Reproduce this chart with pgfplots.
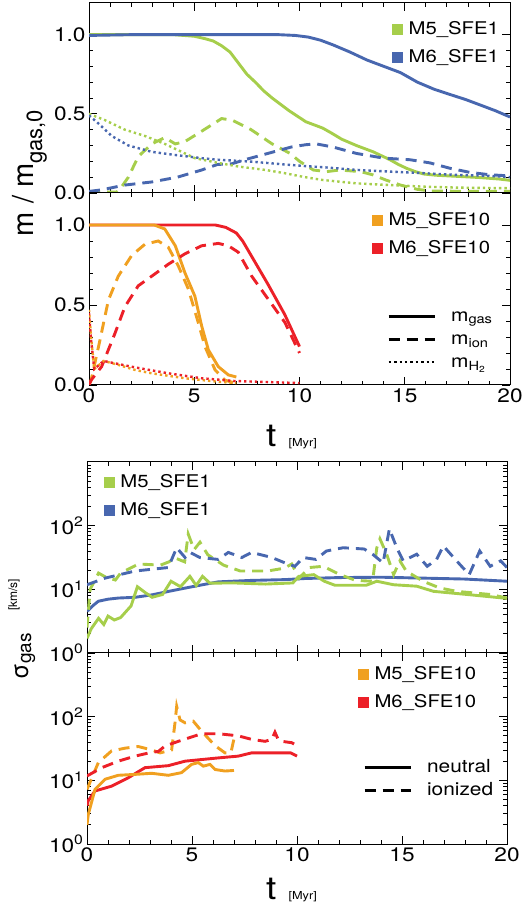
\documentclass[border=0pt]{standalone}
\usepackage{fontspec}
\setmainfont{TeX Gyre Heros}[FakeStretch=1.16]
\newfontfamily\rotfont{TeX Gyre Heros}
\usepackage{pgfplots}
\pgfplotsset{compat=1.18}
\definecolor{cgreen}{RGB}{166,206,75}
\definecolor{cblue}{RGB}{72,103,175}
\definecolor{corange}{RGB}{240,160,32}
\definecolor{cred}{RGB}{236,32,40}
\pgfplotsset{
  panel/.style={scale only axis, xmin=0, xmax=20, xtick={0,5,10,15,20},
    minor x tick num=4, tick align=inside, major tick length=8pt, minor tick length=4pt,
    axis line style={line width=1pt}, every tick/.style={black, line width=0.8pt},
    tick label style={font=\fontsize{19.5}{22}\selectfont}, no markers, anchor=south west},
  sol/.style={line width=2.9pt, solid},
  dsh/.style={line width=2.9pt, dash pattern=on 11pt off 7pt},
  dot/.style={line width=2.4pt, dash pattern=on 2.4pt off 3pt},
  sq/.style={legend image code/.code={\fill[#1] (0pt,-5pt) rectangle (10pt,5pt); \path (16pt,0pt);}},
  colleg/.style={legend cell align=left, legend style={draw=none, fill=none, inner sep=0pt,
    row sep=10pt, font=\fontsize{17.5}{21}\selectfont, at={#1}, anchor=north west,
    nodes={inner sep=0pt, text height=14pt, text depth=4pt}}},
  linleg/.style={legend cell align=left, legend style={draw=none, fill=none, inner sep=0pt,
    row sep=5pt, font=\fontsize{18}{21}\selectfont, at={#1}, anchor=north west,
    nodes={inner sep=0pt, text height=14pt, text depth=4pt}},
    legend image code/.code={\draw[##1] (0pt,0pt) -- (46pt,0pt); \path (61pt,0pt);}},
}
\begin{document}
\begin{tikzpicture}[x=1pt,y=1pt]
\path[use as bounding box] (0,0) rectangle (530,910);
% ---------------- Panel 1
\begin{axis}[panel, at={(89pt,717pt)}, width=421pt, height=190pt, ymin=0, ymax=1.2,
  ytick={0,0.5,1}, yticklabels={0.0,0.5,1.0}, minor y tick num=4, xticklabels={},
  colleg={(0.72,0.91)}]
\addplot[cgreen, sol, forget plot] coordinates {(0,1.0)(1,1.0)(2,1.0)(3,1.0)(4,1.0)(4.5,0.995)(5,0.99)(5.5,0.975)(5.9,0.96)(6.3,0.93)(6.7,0.89)(7.1,0.82)(7.5,0.75)(7.9,0.70)(8.3,0.645)(8.7,0.60)(9.1,0.56)(9.5,0.52)(9.9,0.485)(10.3,0.45)(10.7,0.43)(11.1,0.41)(11.5,0.38)(12.0,0.34)(12.7,0.30)(13.5,0.26)(14.3,0.21)(14.7,0.18)(15.1,0.155)(15.5,0.135)(15.9,0.12)(16.5,0.112)(17.5,0.105)(18.5,0.098)(19.5,0.088)(20,0.08)};
\addplot[cblue, sol, forget plot] coordinates {(0,0.995)(2,1.0)(5,1.0)(8,1.0)(9,1.0)(9.8,0.995)(10.4,0.985)(11,0.965)(11.6,0.935)(12.4,0.89)(13.2,0.84)(14,0.80)(14.8,0.76)(15.6,0.70)(16.4,0.655)(17.2,0.62)(17.9,0.59)(18.6,0.555)(19.3,0.52)(20,0.48)};
\addplot[cgreen, dsh, forget plot] coordinates {(0,0.005)(1.3,0.005)(1.45,0.02)(1.87,0.10)(2.34,0.23)(2.98,0.31)(3.6,0.35)(4.1,0.31)(4.56,0.325)(5.35,0.39)(6.3,0.47)(6.8,0.46)(7.7,0.40)(8.7,0.31)(9.55,0.25)(10.0,0.20)(10.66,0.145)(11.3,0.135)(11.9,0.145)(12.9,0.135)(13.5,0.114)(14.1,0.082)(14.8,0.05)(15.6,0.023)(16.2,0.013)(18,0.01)(20,0.01)};
\addplot[cblue, dsh, forget plot] coordinates {(0,0.01)(0.6,0.02)(1.7,0.05)(3.0,0.07)(4.2,0.10)(5.35,0.145)(6.1,0.18)(6.8,0.185)(7.4,0.21)(8.5,0.25)(9.6,0.29)(10.3,0.305)(10.8,0.31)(11.6,0.29)(12.7,0.25)(14.0,0.22)(15.25,0.21)(16.2,0.19)(17.15,0.156)(18.1,0.13)(19.05,0.115)(20,0.108)};
\addplot[cgreen, dot, forget plot] coordinates {(0,0.50)(0.76,0.46)(1.7,0.40)(2.66,0.36)(3.6,0.31)(4.24,0.27)(5.03,0.22)(6.14,0.19)(7.1,0.167)(8.36,0.146)(9.3,0.125)(10.26,0.10)(11.1,0.082)(12.7,0.061)(14.3,0.05)(15.9,0.04)(17.5,0.034)(20,0.03)};
\addplot[cblue, dot, forget plot] coordinates {(0,0.49)(0.44,0.44)(1.08,0.36)(1.87,0.30)(2.98,0.26)(4.09,0.24)(5.35,0.22)(6.14,0.21)(7.73,0.198)(9.3,0.18)(10.26,0.17)(11.1,0.163)(12.7,0.146)(14.3,0.135)(15.9,0.125)(17.5,0.114)(19.05,0.108)(20,0.10)};
\addlegendimage{sq=cgreen}\addlegendentry{M5\_SFE1}
\addlegendimage{sq=cblue}\addlegendentry{M6\_SFE1}
\end{axis}
% ---------------- Panel 2
\begin{axis}[panel, at={(89pt,525pt)}, width=421pt, height=192pt, ymin=0, ymax=1.2,
  ytick={0,0.5,1}, yticklabels={0.0,0.5,1.0}, minor y tick num=4, xticklabels={0,5,10,15,20},
  colleg={(0.672,0.906)}]
\addplot[cred, sol, forget plot] coordinates {(0,1.0)(3,1.0)(6,1.0)(6.5,0.985)(7.0,0.95)(7.3,0.90)(7.7,0.81)(8.5,0.63)(9.3,0.44)(10.0,0.24)};
\addplot[corange, sol, forget plot] coordinates {(0,1.0)(3.1,1.0)(3.6,0.975)(4.1,0.87)(4.56,0.70)(5.03,0.555)(5.35,0.37)(5.67,0.22)(6.14,0.115)(6.62,0.063)(7.0,0.05)};
\addplot[corange, dsh, forget plot] coordinates {(0,0.0)(0.1,0.03)(0.52,0.28)(0.92,0.53)(1.39,0.68)(2.03,0.81)(2.66,0.88)(3.29,0.90)(3.77,0.86)(4.24,0.745)(4.72,0.60)(5.19,0.39)(5.51,0.24)(5.99,0.094)(6.46,0.03)(7.0,0.01)};
\addplot[cred, dsh, forget plot] coordinates {(0,0.0)(0.1,0.03)(0.6,0.115)(1.24,0.325)(1.71,0.49)(2.34,0.62)(2.98,0.68)(3.77,0.755)(4.56,0.82)(5.35,0.87)(6.14,0.885)(6.62,0.87)(7.09,0.83)(7.73,0.68)(8.52,0.535)(9.31,0.39)(10.0,0.20)};
\addplot[corange, dot, forget plot] coordinates {(0,0.47)(0.1,0.3)(0.25,0.1)(0.7,0.15)(1.39,0.126)(2.19,0.094)(2.98,0.073)(4.56,0.042)(6.14,0.02)(7,0.012)};
\addplot[cred, dot, forget plot] coordinates {(0,0.45)(0.1,0.28)(0.25,0.1)(0.7,0.15)(2.19,0.11)(3.77,0.073)(5.35,0.042)(6.9,0.025)(10,0.012)};
\addlegendimage{sq=corange}\addlegendentry{M5\_SFE10}
\addlegendimage{sq=cred}\addlegendentry{M6\_SFE10}
\end{axis}
\begin{axis}[scale only axis, at={(89pt,525pt)}, anchor=south west, width=421pt, height=192pt, hide axis,
  xmin=0, xmax=1, ymin=0, ymax=1, linleg={(0.708,0.406)}]
\addlegendimage{black, sol}\addlegendentry{m\textsubscript{gas}}
\addlegendimage{black, dsh}\addlegendentry{m\textsubscript{ion}}
\addlegendimage{black, dot}\addlegendentry{m\textsubscript{H\textsubscript{2}}}
\end{axis}
% ---------------- Panel 3
\begin{axis}[panel, at={(87pt,257pt)}, width=420pt, height=191pt, ymode=log, ymin=1, ymax=1000,
  ytick={1,10,100}, yticklabels={10\textsuperscript{0},10\textsuperscript{1},10\textsuperscript{2}},
  minor ytick={2,3,4,5,6,7,8,9,20,30,40,50,60,70,80,90,200,300,400,500,600,700,800,900},
  xticklabels={}, colleg={(0.04,0.942)}]
\addplot[cblue, sol, forget plot] coordinates {(0,4.5)(0.3,5.6)(0.54,6.5)(1.0,7.0)(1.5,7.3)(2.3,7.5)(3.1,8.2)(3.9,9.3)(4.7,10.5)(5.5,11.8)(6.25,13.1)(7.8,13.8)(9.4,14.2)(10.4,14.8)(12,15.3)(14,15.5)(16,15.0)(18,14.5)(20,13.4)};
\addplot[cgreen, sol, forget plot] coordinates {(0,1.7)(0.2,2.4)(0.55,3.5)(0.8,2.8)(1.0,3.8)(1.3,3.3)(1.6,3.6)(2.1,5.5)(2.4,11)(2.75,9)(3.1,7.5)(3.6,8.3)(4.0,13.4)(4.45,11)(4.9,16)(5.2,11.5)(5.5,16)(5.85,12.5)(7,12.6)(8.5,12.1)(9.8,12.6)(10.1,16)(10.8,17)(11.3,13.4)(11.8,11.6)(13.3,11.6)(13.8,13.4)(14.6,11.8)(15.7,11.2)(16.5,9.3)(18.1,8.3)(20,7.2)};
\addplot[cgreen, dsh, forget plot] coordinates {(0,2.5)(0.15,10)(0.55,18)(0.9,15.5)(1.35,14)(1.6,18)(2.45,25)(3.5,24)(3.9,27)(4.2,31)(4.65,27)(4.82,74)(5.1,42)(5.38,55)(5.75,35)(6.5,24)(7.3,19.4)(8.6,19.4)(9.4,21.5)(9.75,25)(10.1,15)(10.6,22)(11.25,23)(12.05,17)(12.8,13.8)(13.6,13.4)(13.8,45)(13.95,62)(14.27,35.6)(14.6,17)(14.9,28)(15.2,19.4)(16.0,13.4)(16.8,10.5)(17.6,9.3)(19.2,8.3)(20,7.3)};
\addplot[cblue, dsh, forget plot] coordinates {(0,11.8)(0.86,15)(2.29,19.4)(3.87,22)(4.27,45)(4.67,31.6)(4.9,38)(5.38,31.6)(6.25,29.5)(6.73,38)(7.37,31.6)(7.84,38)(8.8,31.6)(9.43,26)(9.9,23)(10.3,31.6)(10.9,29.5)(11.4,40)(12.2,45)(13.2,43)(13.6,35.6)(14.1,26)(14.4,89)(14.75,45)(15.06,28)(15.7,35.6)(16.2,23)(16.65,29.5)(16.97,48)(17.6,28)(18.2,17)(18.7,40)(19.2,23)(19.7,28)(20,22)};
\addlegendimage{sq=cgreen}\addlegendentry{M5\_SFE1}
\addlegendimage{sq=cblue}\addlegendentry{M6\_SFE1}
\end{axis}
% ---------------- Panel 4
\begin{axis}[panel, at={(87pt,66pt)}, width=420pt, height=191pt, ymode=log, ymin=1, ymax=1000,
  ytick={1,10,100}, yticklabels={10\textsuperscript{0},10\textsuperscript{1},10\textsuperscript{2}},
  minor ytick={2,3,4,5,6,7,8,9,20,30,40,50,60,70,80,90,200,300,400,500,600,700,800,900},
  xticklabels={0,5,10,15,20}, colleg={(0.645,0.937)}]
\addplot[cred, sol, forget plot] coordinates {(0,4.0)(0.06,4.8)(0.38,6.8)(1.17,8.1)(1.97,11)(2.76,15.8)(3.87,17)(4.67,20)(6.25,22.5)(7.2,24)(7.84,27)(9.43,27)(9.7,27)(10.0,24)};
\addplot[corange, sol, forget plot] coordinates {(0,2.0)(0.06,2.9)(0.38,7.2)(0.86,10.4)(1.49,12)(2.29,12.4)(3.08,12.9)(3.87,12)(4.5,13.2)(4.98,17.8)(5.3,19)(5.54,16.7)(5.86,17.8)(6.1,14.8)(6.57,14)(7.0,14.3)};
\addplot[corange, dsh, forget plot] coordinates {(0,7.2)(0.54,19)(1.17,29)(1.81,32)(2.44,34)(3.08,30)(3.48,27)(4.03,30)(4.19,80)(4.27,145)(4.43,89)(4.67,80)(5.06,85)(5.46,59)(6.1,35)(6.57,27)(6.85,27)(7.0,45)};
\addplot[cred, dsh, forget plot] coordinates {(0,11.7)(0.7,15.8)(1.49,20)(2.29,24)(3.08,27.6)(3.4,28.4)(3.71,34.6)(4.35,41)(5.46,54)(6.25,54)(7.2,50)(7.84,44)(8.48,41)(8.8,44)(8.95,57)(9.1,44)(9.27,41)(9.75,39)(10.0,35)};
\addlegendimage{sq=corange}\addlegendentry{M5\_SFE10}
\addlegendimage{sq=cred}\addlegendentry{M6\_SFE10}
\end{axis}
\begin{axis}[scale only axis, at={(87pt,66pt)}, anchor=south west, width=420pt, height=191pt, hide axis,
  xmin=0, xmax=1, ymin=0, ymax=1, linleg={(0.657,0.45)}]
\addlegendimage{black, sol}\addlegendentry{neutral}
\addlegendimage{black, dsh}\addlegendentry{ionized}
\end{axis}
% ---------------- labels
\node[rotate=90, anchor=base] at (33pt,737pt) {\rotfont\fontsize{29}{34}\selectfont m / m\raisebox{-9pt}{\fontsize{22}{26}\selectfont gas,0}};
\node[rotate=90, anchor=base] at (28pt,281pt) {\rotfont\fontsize{24}{28}\selectfont σ\raisebox{-3pt}{\fontsize{19}{22}\selectfont gas}\hspace{22pt}\raisebox{11pt}{\fontsize{12}{14}\selectfont [km/s]}};
\node[anchor=base west, inner sep=0pt] at (266pt,463pt) {{\fontsize{32}{36}\selectfont t}\hspace{12pt}{\fontsize{11}{13}\selectfont [Myr]}};
\node[anchor=base west, inner sep=0pt] at (266pt,10pt) {{\fontsize{32}{36}\selectfont t}\hspace{12pt}{\fontsize{11}{13}\selectfont [Myr]}};
\end{tikzpicture}
\end{document}
